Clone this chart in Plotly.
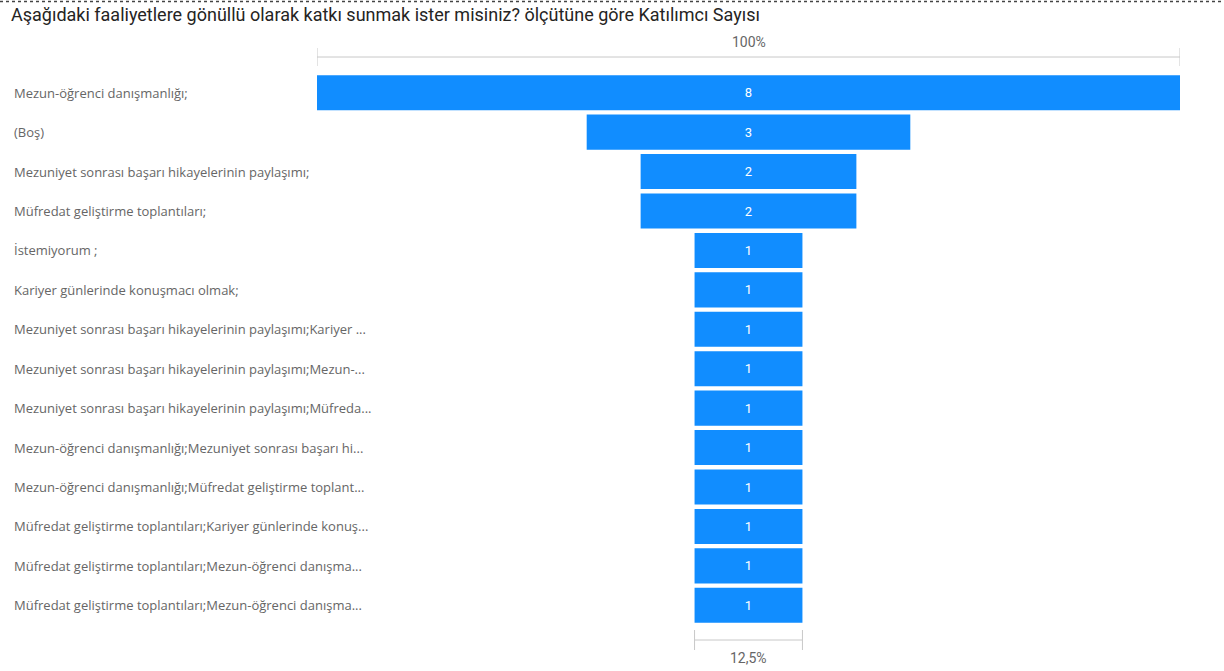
import plotly.graph_objects as go

title = "Aşağıdaki faaliyetlere gönüllü olarak katkı sunmak ister misiniz? ölçütüne göre Katılımcı Sayısı"
labels = [
    "Mezun-öğrenci danışmanlığı;",
    "(Boş)",
    "Mezuniyet sonrası başarı hikayelerinin paylaşımı;",
    "Müfredat geliştirme toplantıları;",
    "İstemiyorum ;",
    "Kariyer günlerinde konuşmacı olmak;",
    "Mezuniyet sonrası başarı hikayelerinin paylaşımı;Kariyer ...",
    "Mezuniyet sonrası başarı hikayelerinin paylaşımı;Mezun-...",
    "Mezuniyet sonrası başarı hikayelerinin paylaşımı;Müfreda...",
    "Mezun-öğrenci danışmanlığı;Mezuniyet sonrası başarı hi...",
    "Mezun-öğrenci danışmanlığı;Müfredat geliştirme toplant...",
    "Müfredat geliştirme toplantıları;Kariyer günlerinde konuş...",
    "Müfredat geliştirme toplantıları;Mezun-öğrenci danışma...",
    "Müfredat geliştirme toplantıları;Mezun-öğrenci danışma...",
]
values = [8, 3, 2, 2, 1, 1, 1, 1, 1, 1, 1, 1, 1, 1]

W, H = 1224, 671
# plot area in page pixels: x 317..1180, y 73..625
ML, MR = 317, W - 1180
MT, MB = 73, H - 625
PW = W - ML - MR
PH = H - MT - MB

BAR = "#118DFF"
GRAY = "#C8C8C8"
TXT = "#666666"

ids = [str(i) for i in range(len(values))]

fig = go.Figure(go.Funnel(
    y=ids, x=values,
    text=[str(v) for v in values],
    textinfo="text",
    textposition="inside",
    insidetextanchor="middle",
    textfont=dict(color="white", size=13, family="Roboto"),
    marker=dict(color=BAR),
    connector=dict(visible=False),
    hoverinfo="skip",
))

vmax = max(values)
vlast = values[-1]

def py(pix):
    return (H - MB - pix) / PH

def px(pix):
    return (pix - ML) / PW

shapes = []
shapes.append(dict(type="line", xref="x", yref="paper", x0=-vmax/2, x1=vmax/2, y0=py(57), y1=py(57), line=dict(color=GRAY, width=1)))
for xv in (-vmax/2, vmax/2):
    shapes.append(dict(type="line", xref="x", yref="paper", x0=xv, x1=xv, y0=py(48), y1=py(66), line=dict(color=GRAY, width=1)))
shapes.append(dict(type="line", xref="x", yref="paper", x0=-vlast/2, x1=vlast/2, y0=py(640), y1=py(640), line=dict(color=GRAY, width=1)))
for xv in (-vlast/2, vlast/2):
    shapes.append(dict(type="line", xref="x", yref="paper", x0=xv, x1=xv, y0=py(630), y1=py(650), line=dict(color=GRAY, width=1)))
shapes.append(dict(type="line", xref="paper", yref="paper", x0=px(0), x1=px(W), y0=py(1.5), y1=py(1.5),
                   line=dict(color="#444444", width=1.5, dash="dot")))

annotations = []
for i, lab in enumerate(labels):
    annotations.append(dict(text=lab, xref="paper", yref="y", x=px(12), y=ids[i], xanchor="left", yanchor="middle",
                            showarrow=False, font=dict(family="Segoe UI, Open Sans, sans-serif", size=13, color=TXT)))
annotations.append(dict(text="100%", xref="x", yref="paper", x=0, y=py(42), xanchor="center", yanchor="middle",
                        showarrow=False, font=dict(family="Roboto", size=14, color=TXT)))
pct = vlast / vmax * 100
annotations.append(dict(text=("%g%%" % pct).replace(".", ","), xref="x", yref="paper", x=0, y=py(658), xanchor="center", yanchor="middle",
                        showarrow=False, font=dict(family="Roboto", size=14, color=TXT)))
annotations.append(dict(text=title, xref="paper", yref="paper", x=px(9), y=py(15), xanchor="left", yanchor="middle",
                        showarrow=False, font=dict(family="Roboto", size=18, color="#252423")))

fig.update_layout(
    width=W, height=H,
    margin=dict(l=ML, r=MR, t=MT, b=MB),
    paper_bgcolor="white", plot_bgcolor="white",
    xaxis=dict(range=[-vmax/2, vmax/2], visible=False, fixedrange=True),
    yaxis=dict(type="category", showticklabels=False, showgrid=False, zeroline=False, showline=False, ticks="", fixedrange=True),
    funnelgap=0.11,
    showlegend=False,
    shapes=shapes,
    annotations=annotations,
)

fig.write_html("out.html", config={"displayModeBar": False},
               post_script="document.body.style.margin='0';document.body.style.overflow='hidden';")
